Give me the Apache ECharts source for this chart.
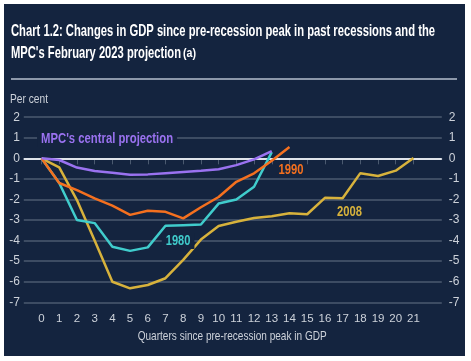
<!DOCTYPE html>
<html><head><meta charset="utf-8">
<script src="https://cdn.jsdelivr.net/npm/echarts@6/dist/echarts.min.js"></script>
<style>html,body{margin:0;padding:0;background:#fff}#c{width:471px;height:361px}</style>
</head><body><div id="c"></div>
<script>
const quarters = [0,1,2,3,4,5,6,7,8,9,10,11,12,13,14,15,16,17,18,19,20,21];
const tickLabels = ['0','1','2','3','4','5','6','7','8','9','10','11','12','13','14','15','16','17','18','19','20','21'];
const mpc = [0,-0.08,-0.45,-0.62,-0.7,-0.8,-0.78,-0.72,-0.66,-0.6,-0.53,-0.33,-0.05,0.35];
const r1990 = [0,-1.2,-1.55,-1.95,-2.3,-2.75,-2.55,-2.6,-2.92,-2.38,-1.88,-1.14,-0.73,-0.12,0.55];
const r1980 = [0,-1.2,-3.0,-3.15,-4.3,-4.5,-4.33,-3.28,-3.25,-3.22,-2.2,-2.0,-1.38,0.3];
const r2008 = [0,-0.44,-2.03,-4.0,-6.0,-6.32,-6.16,-5.83,-4.94,-3.95,-3.29,-3.08,-2.9,-2.82,-2.67,-2.72,-1.92,-1.94,-0.72,-0.86,-0.6,0.02];
const seriesNames = ['2008','1980','1990',"MPC's central projection"];
const labelAnchors = [[17.39,-2.6],[7.71,-4.02],[14.09,-0.57],[3.7,0.94]];

const FONT = '"Liberation Sans", Arial, sans-serif';
const BG = '#14243f';
const GRID = '#4b5a70';
const TXT = '#cdd2da';
const COLORS = ['#d7b23c','#40cccc','#f4701f','#9a72f0'];

const ctx = document.createElement('canvas').getContext('2d');
function measure(str, font){ ctx.font = font; return ctx.measureText(str).width; }
function ntext(str, font, fill, left, cy, targetW, extra){
  const w = measure(str, font);
  return Object.assign({type:'text', x:left, y:cy, scaleX: targetW / w, scaleY:1,
    style:{text:str, font:font, fill:fill, align:'left', verticalAlign:'middle'}, z:50}, extra||{});
}
function pts(arr){ return arr.map((v,i)=>[quarters[i], v]); }

const chart = echarts.init(document.getElementById('c'), null, {renderer:'canvas'});
const baseGraphic = [
  {type:'rect', shape:{x:4,y:4,width:461,height:352}, style:{fill:BG}, z:-10},
  ntext('Chart 1.2: Changes in GDP since pre-recession peak in past recessions and the', 'bold 17px '+FONT, '#ffffff', 11, 31.5, 424),
  ntext("MPC's February 2023 projection", 'bold 17px '+FONT, '#ffffff', 11, 53, 170),
  ntext('(a)', 'bold 12px '+FONT, '#ffffff', 183, 54, 13),
  {type:'line', shape:{x1:11,y1:79,x2:457,y2:79}, style:{stroke:'#8d98aa', lineWidth:2}},
  ntext('Per cent', '12.5px '+FONT, TXT, 10, 99.5, 38),
  ntext('Quarters since pre-recession peak in GDP', '13px '+FONT, TXT, 137.7, 336, 189)
];
const data = [r2008, r1980, r1990, mpc];
chart.setOption({
  backgroundColor:'#ffffff',
  animation:false,
  graphic: baseGraphic,
  grid:{left:23.8, right:29.2, top:117.2, bottom:58.7},
  xAxis:{type:'value', min:-1, max:22.6,
    axisLine:{show:true, lineStyle:{color:GRID, width:1.5}},
    axisTick:{show:true, length:6, lineStyle:{color:GRID, width:1}, customValues:quarters},
    axisLabel:{color:TXT, fontFamily:FONT, fontSize:11.5, margin:11, customValues:quarters, formatter:(v)=>tickLabels[quarters.indexOf(v)] ?? ''},
    splitLine:{show:false}},
  yAxis:[
    {type:'value', min:-7, max:2, interval:1, position:'left',
      axisLine:{show:false}, axisTick:{show:false},
      axisLabel:{color:TXT, fontFamily:FONT, fontSize:12, margin:4},
      splitLine:{show:true, lineStyle:{color:GRID, width:1.5}}},
    {type:'value', min:-7, max:2, interval:1, position:'right',
      axisLine:{show:false}, axisTick:{show:false},
      axisLabel:{color:TXT, fontFamily:FONT, fontSize:12, margin:7, align:'left'},
      splitLine:{show:false}}
  ],
  series: data.map((d,i)=>({type:'line', name:seriesNames[i], data:pts(d), symbol:'none',
    lineStyle:{color:COLORS[i], width:2.5}, z:2+i,
    markLine: i===0 ? {silent:true, symbol:'none', label:{show:false}, lineStyle:{color:'#dfe3ea', width:2, type:'solid'}, data:[{yAxis:0}], z:1} : undefined}))
});
// series labels anchored to data coordinates via the chart's scales
const labelWidths = [25, 24.7, 25, 132];
const labelBg = [false, true, false, true];
const extraG = [];
labelAnchors.forEach((a,i)=>{
  const p = chart.convertToPixel({gridIndex:0}, a);
  const w = labelWidths[i];
  const left = p[0] - w/2;
  if (labelBg[i]) extraG.push({type:'rect', shape:{x:left-4, y:p[1]-8, width:w+8, height:16}, style:{fill:BG}, z:40});
  extraG.push(ntext(seriesNames[i], 'bold 15px '+FONT, COLORS[i], left, p[1], w));
});
chart.setOption({graphic: baseGraphic.concat(extraG)}, {replaceMerge:['graphic']});
</script></body></html>
